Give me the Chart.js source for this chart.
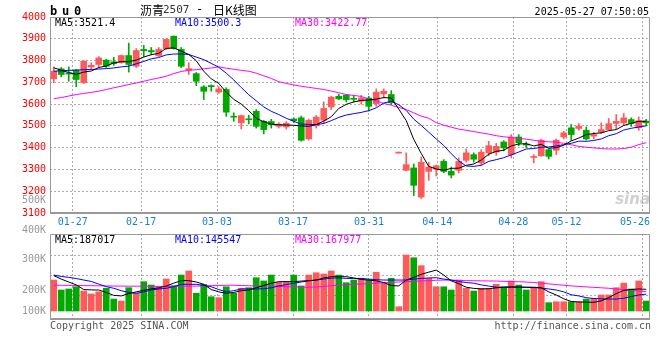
<!DOCTYPE html>
<html>
<head>
<meta charset="utf-8">
<script src="https://cdn.jsdelivr.net/npm/chart.js@4.4.1/dist/chart.umd.min.js"></script>
<style>
body { margin: 0; background: #fff; }
#wrap { position: relative; width: 660px; height: 360px; overflow: hidden; background: #fff; }
canvas { position: absolute; left: 0; top: 0; }
</style>
</head>
<body>
<div id="wrap">
  <canvas id="price" width="660" height="360"></canvas>
  <canvas id="vol" width="660" height="360"></canvas>
</div>
<script>
// trading days shown (index = position on the x axis)
const dates = ['01-22','01-23','01-24','01-27','02-05','02-06','02-07','02-10','02-11','02-12','02-13','02-14','02-17','02-18','02-19','02-20','02-21','02-24','02-25','02-26','02-27','02-28',
  '03-03','03-04','03-05','03-06','03-07','03-10','03-11','03-12','03-13','03-14','03-17','03-18','03-19','03-20','03-21','03-24','03-25','03-26','03-27','03-28','03-31',
  '04-01','04-02','04-03','04-07','04-08','04-09','04-10','04-11','04-14','04-15','04-16','04-17','04-18','04-21','04-22','04-23','04-24','04-25','04-28','04-29','04-30',
  '05-06','05-07','05-08','05-09','05-12','05-13','05-14','05-15','05-16','05-19','05-20','05-21','05-22','05-23','05-26','05-27'];
const tickDates = ['01-27','02-17','03-03','03-17','03-31','04-14','04-28','05-12','05-26'];

const open  = [3716,3762,3742,3756,3698,3770,3782,3802,3794,3790,3823,3774,3851,3846,3823,3854,3912,3851,3756,3740,3679,3685,3655,3667,3541,3514,3530,3567,3521,3520,
  3498,3495,3532,3537,3440,3500,3526,3587,3636,3641,3625,3613,3628,3602,3647,3644,3375,3296,3307,3173,3291,3302,3337,3291,3296,3342,3368,3330,3376,3380,
  3426,3368,3449,3417,3355,3363,3391,3388,3449,3491,3488,3480,3453,3471,3483,3511,3514,3529,3491,3522];
const high  = [3771,3768,3771,3760,3800,3790,3818,3806,3815,3825,3880,3855,3870,3860,3860,3900,3913,3860,3790,3745,3685,3688,3680,3675,3560,3550,3549,3575,3525,3530,
  3515,3520,3536,3545,3530,3548,3610,3636,3645,3645,3640,3640,3636,3670,3670,3662,3376,3376,3325,3357,3333,3320,3345,3311,3353,3394,3376,3391,3429,3420,
  3432,3460,3460,3426,3368,3440,3395,3440,3475,3506,3510,3495,3470,3514,3534,3552,3557,3537,3541,3530];
const low   = [3698,3725,3705,3680,3695,3762,3770,3768,3778,3788,3747,3768,3818,3826,3818,3851,3852,3768,3736,3685,3621,3659,3650,3544,3521,3486,3509,3490,3463,3490,
  3490,3485,3515,3430,3435,3490,3510,3575,3620,3610,3610,3600,3568,3590,3628,3598,3375,3294,3180,3166,3250,3270,3285,3261,3284,3333,3333,3322,3363,3365,
  3385,3353,3409,3400,3330,3360,3348,3368,3440,3434,3480,3435,3440,3465,3480,3485,3505,3498,3480,3500];
const close = [3751,3736,3738,3713,3797,3778,3812,3774,3786,3823,3782,3846,3845,3840,3851,3897,3855,3774,3763,3705,3659,3680,3670,3563,3540,3547,3528,3498,3483,3505,
  3508,3512,3524,3434,3526,3540,3580,3632,3624,3620,3622,3628,3590,3655,3659,3606,3376,3322,3227,3333,3311,3317,3291,3274,3337,3376,3347,3379,3409,3406,
  3399,3449,3422,3412,3358,3434,3360,3434,3468,3460,3499,3440,3460,3483,3510,3521,3537,3511,3524,3514];

const ma5  = [3767,3755,3745,3737,3747,3752,3768,3775,3789,3795,3795,3802,3816,3827,3833,3856,3858,3843,3828,3799,3751,3716,3695,3655,3622,3600,3570,3535,3519,3508,
  3505,3504,3503,3500,3498,3506,3522,3542,3580,3599,3610,3617,3619,3623,3630,3628,3577,3524,3438,3373,3314,3302,3296,3305,3306,3319,3325,3343,3370,3383,
  3388,3408,3417,3418,3408,3415,3397,3400,3411,3431,3444,3460,3465,3468,3478,3483,3502,3512,3521,3521.4];
const ma10 = [3751,3753,3755,3756,3758,3759,3761,3763,3766,3771,3774,3785,3796,3808,3814,3826,3830,3830,3828,3816,3804,3787,3769,3742,3711,3676,3643,3615,3587,3567,
  3552,3535,3521,3508,3507,3506,3511,3524,3539,3550,3556,3562,3570,3583,3605,3613,3597,3571,3531,3502,3471,3440,3410,3372,3339,3316,3314,3319,3337,3345,
  3354,3367,3380,3394,3396,3402,3403,3408,3414,3420,3430,3429,3433,3440,3455,3464,3481,3489,3495,3500.3];
const ma30 = [3625,3630,3637,3644,3649,3654,3659,3667,3675,3682,3690,3697,3705,3713,3720,3728,3740,3750,3755,3758,3762,3766,3771,3765,3760,3755,3751,3742,3730,3718,
  3703,3695,3688,3682,3677,3672,3667,3660,3652,3644,3640,3635,3623,3615,3603,3595,3585,3575,3560,3545,3535,3515,3503,3494,3485,3480,3474,3468,3462,3455,
  3450,3446,3443,3439,3434,3429,3427,3425,3420,3413,3406,3402,3399,3396,3394,3394,3396,3402,3414,3422.77];

// volume in thousands of lots
const volK = [267,181,190,209,172,147,166,196,103,86,201,153,253,224,209,276,218,310,345,153,230,123,115,209,153,196,201,287,259,310,
  247,253,310,216,310,330,319,345,310,244,267,282,267,334,239,282,37,483,459,391,282,209,209,181,267,196,172,196,196,230,
  209,259,224,181,196,253,72,80,80,80,80,103,109,138,138,201,241,190,259,86];
const vma5  = [305,275,250,225,185,182,181,160,135,130,150,165,178,190,200,215,240,262,262,250,230,185,165,153,160,175,181,200,220,240,
  253,253,253,258,262,267,285,296,296,296,285,272,267,260,245,220,216,267,290,316,335,353,310,260,235,205,195,190,192,200,
  205,209,207,205,205,200,165,138,105,82,78,76,75,88,115,150,178,185,190,187];
const vma10 = [310,298,290,280,267,255,232,210,196,175,160,153,165,181,190,196,210,230,230,230,220,209,185,166,175,190,190,190,192,200,
  216,228,239,250,260,267,275,283,285,281,281,281,275,270,267,267,267,267,275,281,285,287,275,267,255,245,240,225,215,205,
  204,204,204,204,202,198,190,181,165,140,130,115,108,105,103,103,110,125,138,145.5];
const vma30 = [222,222,221,220,219,218,217,216,215,215,214,214,213,213,212,212,212,213,214,215,216,218,220,222,222,220,218,216,215,214,
  212,210,208,206,205,207,212,218,222,226,230,233,236,240,244,247,250,253,256,259,262,265,267,266,264,262,261,260,259,258,
  256,254,252,250,246,240,234,228,222,216,212,208,204,200,196,190,185,178,172,168];

const priceLegend = [['MA5:3521.4', '#000000'], ['MA10:3500.3', '#0000ff'], ['MA30:3422.77', '#ff00ff']];
const volLegend = [['MA5:187017', '#000000'], ['MA10:145547', '#0000ff'], ['MA30:167977', '#ff00ff']];
const volAxisLabels = ['500K', '400K', '300K', '200K', '100K'];
const volGridK = [132, 304, 477];

const MONO = '"DejaVu Sans Mono", monospace';
const CJK = '"Noto Sans CJK SC", sans-serif';
const RED = '#ff5a5a', GREEN = '#00a800';

const pts = arr => arr.map((v, i) => ({ x: i, y: v }));
const upColor = close.map((c, i) => (c >= open[i] ? RED : GREEN));
// sina spaces its date grid over (n-1) slots, so the lines drift slightly from the candles
const n = dates.length;
const tickVals = tickDates.map(d => dates.indexOf(d) * n / (n - 1) - 0.5);

function xScale() {
  return {
    type: 'linear', min: -0.5, max: n - 0.5, offset: false,
    afterBuildTicks: s => { s.ticks = tickVals.map(v => ({ value: v })); },
    afterFit: s => { s.height = 0; },
    ticks: { display: false },
    grid: { color: '#aaaaaa', lineWidth: 1, drawTicks: false, offset: false },
    border: { display: false, dash: [2, 2] }
  };
}

// grey frame around a plot area
const frame = {
  id: 'frame',
  afterDatasetsDraw(chart) {
    const { ctx, chartArea: a } = chart;
    ctx.save();
    ctx.strokeStyle = '#999999';
    ctx.lineWidth = 1;
    ctx.beginPath();
    ctx.moveTo(a.left + 0.5, a.bottom);
    ctx.lineTo(a.left + 0.5, a.top + 0.5);
    ctx.lineTo(a.right - 0.5, a.top + 0.5);
    ctx.lineTo(a.right - 0.5, a.bottom);
    ctx.stroke();
    ctx.lineWidth = 2;
    ctx.beginPath();
    ctx.moveTo(a.left, a.bottom);
    ctx.lineTo(a.right, a.bottom);
    ctx.stroke();
    ctx.restore();
  }
};

function drawLegend(ctx, items, y) {
  ctx.font = '10px ' + MONO;
  ctx.textBaseline = 'middle';
  ctx.textAlign = 'left';
  items.forEach(([txt, col], k) => {
    ctx.fillStyle = col;
    ctx.fillText(txt, 55 + k * 120, y);
  });
}

const priceText = {
  id: 'priceText',
  afterDraw(chart) {
    const ctx = chart.ctx;
    const a = chart.chartArea;
    const xs = chart.scales.x;
    ctx.save();
    drawLegend(ctx, priceLegend, 23);
    // date labels under the price panel, kept inside the frame
    ctx.font = '10px ' + MONO;
    ctx.fillStyle = '#1a7fd4';
    ctx.textAlign = 'center';
    tickDates.forEach((d, k) => {
      const w = ctx.measureText(d).width;
      let x = xs.getPixelForValue(tickVals[k]);
      x = Math.min(Math.max(x, a.left + w / 2), a.right - w / 2);
      ctx.fillText(d, x, a.bottom + 9);
    });
    // watermark
    ctx.font = 'italic bold 15px "DejaVu Sans", sans-serif';
    ctx.fillStyle = 'rgba(170,170,170,0.55)';
    ctx.textAlign = 'right';
    ctx.fillText('sina', 650, 200);
    ctx.restore();
  }
};

const pageText = {
  id: 'pageText',
  afterDraw(chart) {
    const ctx = chart.ctx;
    ctx.save();
    drawLegend(ctx, volLegend, 240);
    ctx.textBaseline = 'middle';
    // volume axis labels
    ctx.font = '10px ' + MONO;
    ctx.fillStyle = '#999999';
    ctx.textAlign = 'right';
    const labY = [200, 230.5, 259.5, 290.5, 311];
    volAxisLabels.forEach((t, k) => ctx.fillText(t, 46, labY[k]));
    // header
    ctx.textAlign = 'left';
    ctx.fillStyle = '#000';
    ctx.font = 'bold 12px ' + MONO;
    'bu0'.split('').forEach((c, k) => ctx.fillText(c, 50 + k * 12, 12));
    ctx.font = '12px ' + CJK;
    ctx.fillText('沥青', 140, 10);
    ctx.fillStyle = '#333';
    ctx.font = '11px ' + MONO;
    ctx.fillText('2507', 163, 10);
    ctx.fillStyle = '#000';
    ctx.font = '12px ' + MONO;
    ctx.fillText('-', 196, 10);
    ctx.font = '12px ' + CJK;
    ctx.fillText('日K线图', 213, 10);
    ctx.font = '10px ' + MONO;
    ctx.textAlign = 'right';
    ctx.fillText('2025-05-27 07:50:05', 649, 12);
    // footer
    ctx.fillStyle = '#555';
    ctx.textAlign = 'left';
    ctx.fillText('Copyright 2025 SINA.COM', 50, 326);
    ctx.textAlign = 'right';
    ctx.fillText('http://finance.sina.com.cn', 651, 326);
    ctx.restore();
  }
};

const lineDs = (arr, color) => ({
  type: 'line', data: pts(arr), borderColor: color, borderWidth: 1,
  pointRadius: 0, tension: 0, order: 0
});

new Chart(document.getElementById('price'), {
  type: 'bar',
  data: {
    datasets: [
      lineDs(ma5, '#000000'),
      lineDs(ma10, '#0000ff'),
      lineDs(ma30, '#ff00ff'),
      {
        data: open.map((o, i) => ({ x: i, y: [o, close[i]] })),
        backgroundColor: upColor, barThickness: 6, minBarLength: 1,
        grouped: false, order: 1
      },
      {
        data: low.map((l, i) => ({ x: i, y: [l, high[i]] })),
        backgroundColor: upColor, barThickness: 1, minBarLength: 1,
        grouped: false, order: 2
      }
    ]
  },
  options: {
    responsive: false, animation: false, devicePixelRatio: 1,
    layout: { padding: { top: 17, right: 10, left: 0, bottom: 147 } },
    plugins: { legend: { display: false }, tooltip: { enabled: false } },
    scales: {
      x: xScale(),
      y: {
        type: 'linear', min: 3100, max: 4000, beginAtZero: false,
        afterFit: s => { s.width = 50; },
        ticks: {
          stepSize: 100, padding: 4, color: '#ff0000', font: { family: MONO, size: 10 },
          callback: v => String(v)
        },
        grid: { color: '#aaaaaa', lineWidth: 1, drawTicks: false },
        border: { display: false, dash: [2, 2] }
      }
    }
  },
  plugins: [frame, priceText]
});

new Chart(document.getElementById('vol'), {
  type: 'bar',
  data: {
    datasets: [
      lineDs(vma5, '#000000'),
      lineDs(vma10, '#0000ff'),
      lineDs(vma30, '#ff00ff'),
      {
        data: pts(volK), backgroundColor: upColor, barThickness: 6,
        grouped: false, order: 1
      }
    ]
  },
  options: {
    responsive: false, animation: false, devicePixelRatio: 1,
    layout: { padding: { top: 234, right: 10, left: 0, bottom: 41 } },
    plugins: { legend: { display: false }, tooltip: { enabled: false } },
    scales: {
      x: xScale(),
      y: {
        type: 'linear', min: -69, max: 664,
        afterFit: s => { s.width = 50; },
        afterBuildTicks: s => { s.ticks = volGridK.map(v => ({ value: v })); },
        ticks: { display: false },
        grid: { color: '#aaaaaa', lineWidth: 1, drawTicks: false },
        border: { display: false, dash: [2, 2] }
      }
    }
  },
  plugins: [frame, pageText]
});
</script>
</body>
</html>
